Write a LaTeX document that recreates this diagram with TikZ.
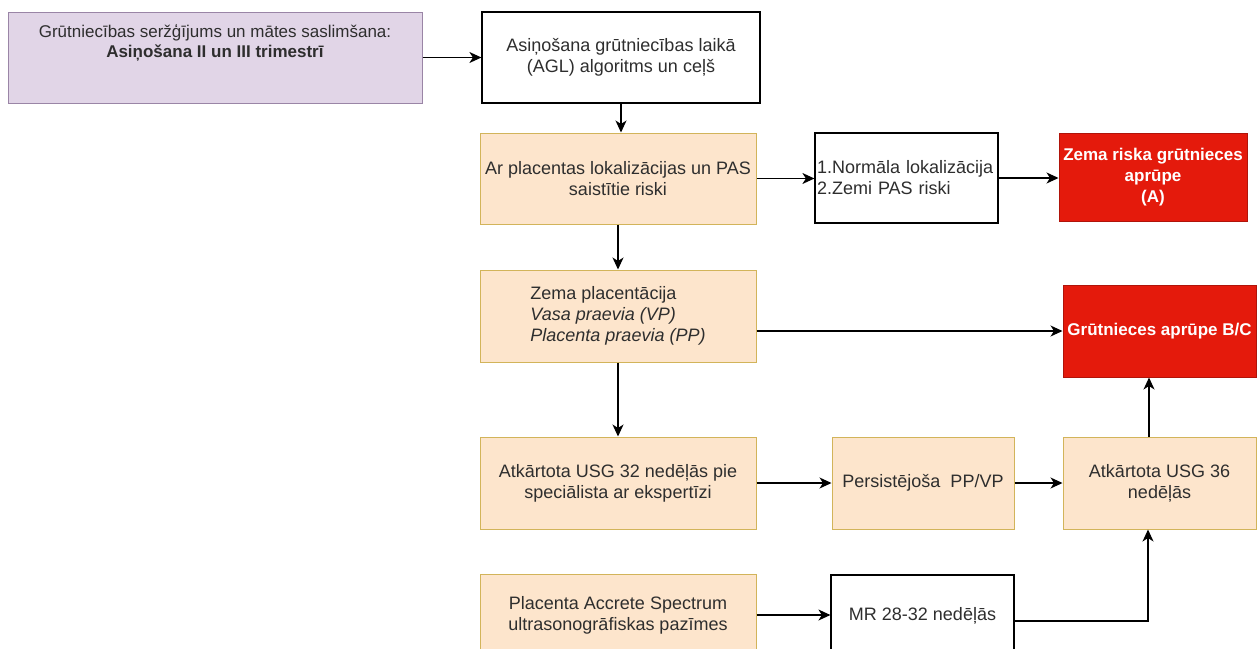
\documentclass[tikz,border=0pt]{standalone}
\usepackage{fontspec}
\setmainfont{Liberation Sans}
\usetikzlibrary{arrows.meta}

\definecolor{lilacfill}{HTML}{E1D5E7}
\definecolor{lilacline}{HTML}{9A85A6}
\definecolor{peachfill}{HTML}{FDE5CC}
\definecolor{peachline}{HTML}{D2B45A}
\definecolor{alertfill}{HTML}{E41A0C}
\definecolor{alertline}{HTML}{B0140A}
\definecolor{inkgray}{HTML}{2E2E2E}

\begin{document}
\begin{tikzpicture}[x=1pt, y=-1pt,
  every node/.style={font=\fontsize{18}{21}\selectfont, text=inkgray,
                     inner sep=2pt, align=center},
  plainbox/.style={draw=black, line width=1.2pt, fill=white},
  lilacbox/.style={draw=lilacline, line width=1pt, fill=lilacfill},
  peachbox/.style={draw=peachline, line width=1pt, fill=peachfill},
  alertbox/.style={draw=alertline, line width=1pt, fill=alertfill,
                   text=white, font=\fontsize{17}{21}\selectfont\bfseries},
  arr/.style={draw=black, line width=1.3pt,
              -{Stealth[length=12pt, width=11pt, inset=3.5pt]}}
]
\useasboundingbox (0,0) rectangle (1257,648);
\fill[white] (0,0) rectangle (1257,648);
\clip (0,0) rectangle (1257,648);

% top row
\node[lilacbox, minimum width=414pt, minimum height=91pt] (b1) at (215,57.5) {};
\node[font=\fontsize{17}{19.5}\selectfont] (b1txt) at (215,43)
  {Grūtniecības seržģījums un mātes saslimšana:\\
   \textbf{Asiņošana II un III trimestrī}};
\node[plainbox, minimum width=278pt, minimum height=91pt] (b2) at (621,57.5)
  {Asiņošana grūtniecības laikā\\(AGL) algoritms un ceļš};

% placenta localisation row
\node[peachbox, minimum width=276pt, minimum height=91pt] (b3) at (618,178.5)
  {Ar placentas lokalizācijas un PAS\\saistītie riski};
\node[plainbox, minimum width=183pt, minimum height=90pt, text width=179pt,
      inner xsep=1pt, align=left] (b4) at (906.5,178)
  {1.Normāla lokalizācija\\2.Zemi PAS riski};
\node[alertbox, minimum width=188pt, minimum height=88pt] (rA) at (1153,177)
  {Zema riska grūtnieces\\aprūpe\\(A)};

% low placentation row
\node[peachbox, minimum width=276pt, minimum height=92pt, align=left] (b5) at (618,316)
  {Zema placentācija\\\textit{Vasa praevia (VP)}\\\textit{Placenta praevia (PP)}};
\node[alertbox, minimum width=193pt, minimum height=92pt] (rBC) at (1159.5,331)
  {Grūtnieces aprūpe B/C};

% repeated ultrasound row
\node[peachbox, minimum width=276pt, minimum height=92pt] (b6) at (618,483)
  {Atkārtota USG 32 nedēļās pie\\speciālista ar ekspertīzi};
\node[peachbox, minimum width=182pt, minimum height=92pt] (b7) at (923,483)
  {Persistējoša\ \ PP/VP};
\node[peachbox, minimum width=193pt, minimum height=92pt] (b8) at (1159.5,483)
  {Atkārtota USG 36\\nedēļās};

% accreta spectrum row
\node[peachbox, minimum width=276pt, minimum height=82pt] (b9) at (618,615)
  {Placenta Accrete Spectrum\\ultrasonogrāfiskas pazīmes};
\node[plainbox, minimum width=183pt, minimum height=82pt] (mr) at (922.5,616)
  {MR 28-32 nedēļās};

% connectors
\draw[arr] (b1.east) -- (b2.west);
\draw[arr] (b2.south) -- (b2.south |- b3.north);
\draw[arr] (b3.east) -- (b3.east -| b4.west);
\draw[arr] (b4.east) -- (b4.east -| rA.west);
\draw[arr] (b3.south) -- (b5.north);
\draw[arr] (b5.east |- rBC.west) -- (rBC.west);
\draw[arr] (b5.south) -- (b6.north);
\draw[arr] (b6.east) -- (b7.west);
\draw[arr] (b7.east) -- (b8.west);
\draw[arr] ([xshift=-10.5pt]b8.north) -- ([xshift=-10.5pt]b8.north |- rBC.south);
\draw[arr] (b9.east) -- (b9.east -| mr.west);
\draw[arr] ([yshift=-5pt]mr.east) -| ([xshift=-11.5pt]b8.south);
\end{tikzpicture}
\end{document}
